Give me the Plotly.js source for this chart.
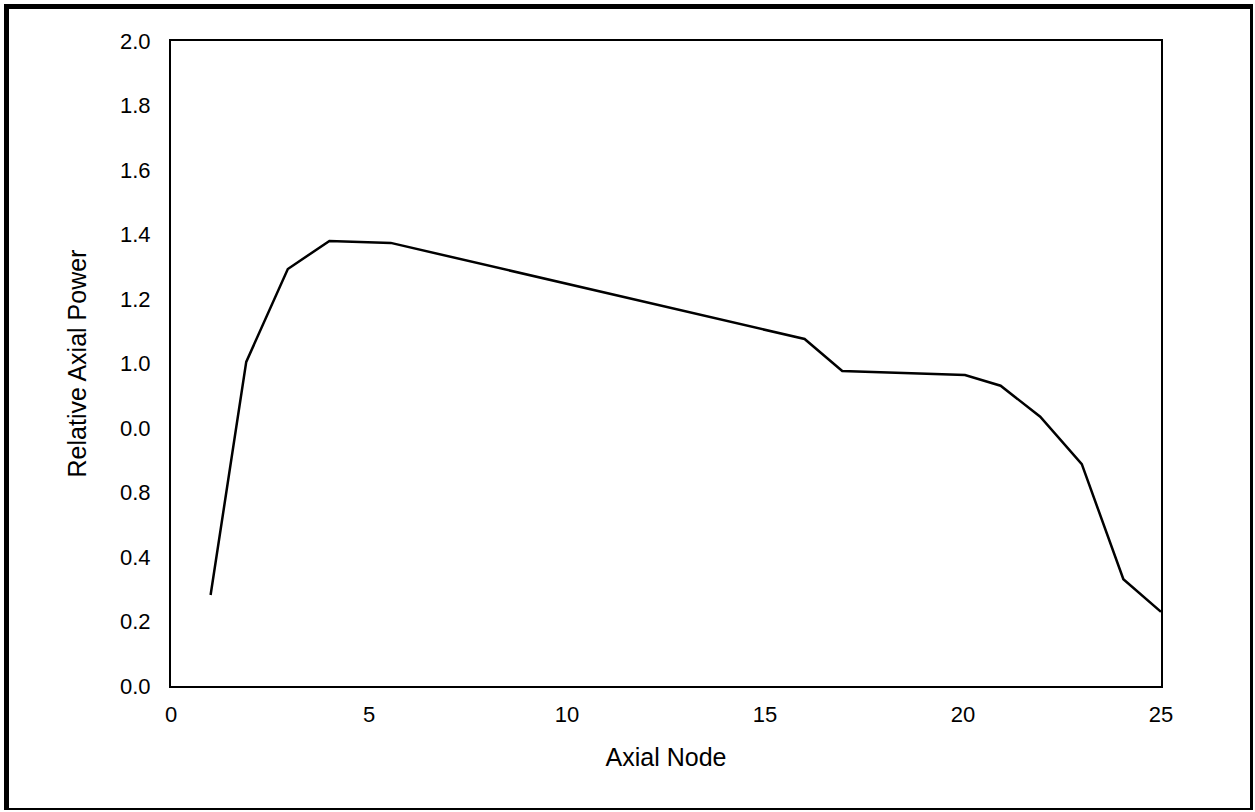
<!DOCTYPE html>
<html>
<head>
<meta charset="utf-8">
<script src="https://cdn.plot.ly/plotly-3.0.1.min.js"></script>
<style>
  html, body { margin: 0; padding: 0; background: #fff; }
  #frame {
    position: absolute; left: 4px; top: 4px; width: 1249px; height: 806px;
    border-left: 5px solid #000; border-top: 5px solid #000;
    border-right: 3px solid #000; border-bottom: 2px solid #000;
    box-sizing: border-box; pointer-events: none; z-index: 5;
  }
  #chart { position: absolute; left: 0; top: 0; width: 1255px; height: 812px; }
</style>
</head>
<body>
<div id="chart"></div>
<div id="frame"></div>
<script>
// Relative axial power profile along the axial nodes
const axialNode = [1.0, 1.9, 2.95, 4.0, 5.55, 16.0, 16.95, 20.05, 20.95, 21.95, 23.0, 24.05, 25.0];
const relativePower = [0.282, 1.005, 1.293, 1.380, 1.374, 1.076, 0.977, 0.964, 0.931, 0.835, 0.688, 0.331, 0.230];

// y-axis tick positions and their printed labels
const yTickVals = [0.0, 0.2, 0.4, 0.6, 0.8, 1.0, 1.2, 1.4, 1.6, 1.8, 2.0];
const yTickText = ['0.0', '0.2', '0.4', '0.8', '0.0', '1.0', '1.2', '1.4', '1.6', '1.8', '2.0'];
const xTickVals = [0, 5, 10, 15, 20, 25];

const family = 'Liberation Sans, Arial, sans-serif';
const tickFont = { family: family, size: 22, color: '#000' };
const titleFont = { family: family, size: 25, color: '#000' };

const trace = {
  x: axialNode,
  y: relativePower,
  type: 'scatter',
  mode: 'lines',
  line: { color: '#000', width: 2.5 },
  hoverinfo: 'skip'
};

const layout = {
  width: 1255,
  height: 812,
  margin: { l: 171, r: 94, t: 41, b: 126 },
  paper_bgcolor: '#fff',
  plot_bgcolor: '#fff',
  showlegend: false,
  font: tickFont,
  xaxis: {
    range: [0, 25],
    tickvals: xTickVals,
    ticktext: xTickVals.map(String),
    ticks: 'outside', ticklen: 8, tickcolor: 'rgba(0,0,0,0)',
    showgrid: false, zeroline: false,
    showline: true, linecolor: '#000', linewidth: 2, mirror: true,
    tickfont: tickFont,
    title: { text: 'Axial Node', font: titleFont, standoff: 22 }
  },
  yaxis: {
    range: [0, 2],
    tickvals: yTickVals,
    ticktext: yTickText,
    ticks: 'outside', ticklen: 14, tickcolor: 'rgba(0,0,0,0)',
    showgrid: false, zeroline: false,
    showline: true, linecolor: '#000', linewidth: 2, mirror: true,
    tickfont: tickFont,
    title: { text: 'Relative Axial Power', font: titleFont, standoff: 26 }
  }
};

Plotly.newPlot('chart', [trace], layout, { displayModeBar: false, staticPlot: true });
</script>
</body>
</html>
